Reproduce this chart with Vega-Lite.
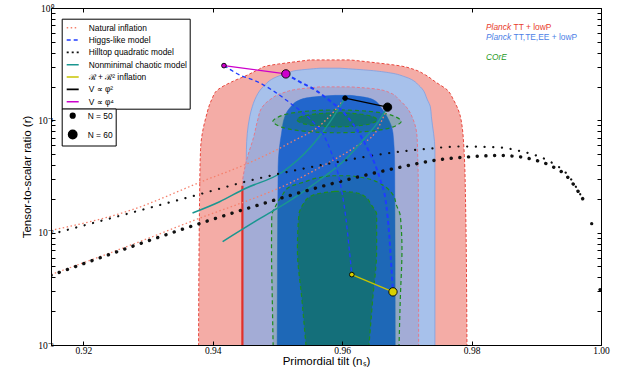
{
  "$schema": "https://vega.github.io/schema/vega-lite/v6.json",
  "width": 550,
  "height": 337,
  "autosize": {"type": "none"},
  "padding": {"left": 51, "top": 8, "right": 17, "bottom": 31},
  "config": {
    "view": {"stroke": "black", "strokeWidth": 1},
    "font": "Liberation Sans",
    "axis": {"grid": false, "domainColor": "black", "tickColor": "black", "labelColor": "black", "titleColor": "black", "titleFontWeight": "normal", "labelFont": "Liberation Serif", "labelFontSize": 9.5, "titleFont": "Liberation Sans", "titleFontSize": 11.5},
    "legend": {"labelFont": "Liberation Sans", "labelFontSize": 8.4, "labelColor": "black", "symbolBaseFillColor": "black", "symbolBaseStrokeColor": "black"}
  },
  "datasets": {
    "contours": [
      {"c": "TT95", "r": 0.0008, "ns": 0.93780, "ns2": 0.97929},
      {"c": "TT95", "r": 0.01965, "ns": 0.93796, "ns2": 0.97906},
      {"c": "TT95", "r": 0.05467, "ns": 0.93811, "ns2": 0.97883},
      {"c": "TT95", "r": 0.1074, "ns": 0.93896, "ns2": 0.97828},
      {"c": "TT95", "r": 0.1522, "ns": 0.93982, "ns2": 0.97720},
      {"c": "TT95", "r": 0.1867, "ns": 0.94075, "ns2": 0.97622},
      {"c": "TT95", "r": 0.2199, "ns": 0.94292, "ns2": 0.97441},
      {"c": "TT95", "r": 0.2537, "ns": 0.94540, "ns2": 0.97286},
      {"c": "TT95", "r": 0.2811, "ns": 0.94695, "ns2": 0.97130},
      {"c": "TT95", "r": 0.3051, "ns": 0.94835, "ns2": 0.96898},
      {"c": "TT95", "r": 0.3245, "ns": 0.95145, "ns2": 0.96541},
      {"c": "TT95", "r": 0.3449, "ns": 0.95502, "ns2": 0.96122},
      {"c": "TE95", "r": 0.0008, "ns": 0.94494, "ns2": 0.97433},
      {"c": "TE95", "r": 0.05467, "ns": 0.94520, "ns2": 0.97433},
      {"c": "TE95", "r": 0.1074, "ns": 0.94571, "ns2": 0.97379},
      {"c": "TE95", "r": 0.1318, "ns": 0.94610, "ns2": 0.97363},
      {"c": "TE95", "r": 0.1522, "ns": 0.94649, "ns2": 0.97317},
      {"c": "TE95", "r": 0.1985, "ns": 0.94777, "ns2": 0.97208},
      {"c": "TE95", "r": 0.2436, "ns": 0.94985, "ns2": 0.96975},
      {"c": "TE95", "r": 0.2644, "ns": 0.95161, "ns2": 0.96743},
      {"c": "TE95", "r": 0.2783, "ns": 0.95300, "ns2": 0.96433},
      {"c": "TE95", "r": 0.2911, "ns": 0.95657, "ns2": 0.95967},
      {"c": "TT68", "r": 0.0008, "ns": 0.94458, "ns2": 0.97182},
      {"c": "TT68", "r": 0.02617, "ns": 0.94458, "ns2": 0.97177},
      {"c": "TT68", "r": 0.04456, "ns": 0.94525, "ns2": 0.97169},
      {"c": "TT68", "r": 0.07134, "ns": 0.94633, "ns2": 0.97157},
      {"c": "TT68", "r": 0.1010, "ns": 0.94695, "ns2": 0.97099},
      {"c": "TT68", "r": 0.1291, "ns": 0.94757, "ns2": 0.97002},
      {"c": "TT68", "r": 0.1522, "ns": 0.94881, "ns2": 0.96882},
      {"c": "TT68", "r": 0.1755, "ns": 0.95083, "ns2": 0.96743},
      {"c": "TT68", "r": 0.1905, "ns": 0.95347, "ns2": 0.96510},
      {"c": "TT68", "r": 0.1985, "ns": 0.95657, "ns2": 0.96122},
      {"c": "TT68e", "r": 0.0008, "ns": 0.94458, "ns2": 0.94458},
      {"c": "TT68e", "r": 0.02617, "ns": 0.94458, "ns2": 0.94458},
      {"c": "TE68", "r": 0.0008, "ns": 0.94995, "ns2": 0.96820},
      {"c": "TE68", "r": 0.03884, "ns": 0.95010, "ns2": 0.96812},
      {"c": "TE68", "r": 0.07694, "ns": 0.95063, "ns2": 0.96785},
      {"c": "TE68", "r": 0.1081, "ns": 0.95114, "ns2": 0.96692},
      {"c": "TE68", "r": 0.1291, "ns": 0.95192, "ns2": 0.96603},
      {"c": "TE68", "r": 0.1522, "ns": 0.95347, "ns2": 0.96484},
      {"c": "TE68", "r": 0.1618, "ns": 0.95579, "ns2": 0.96308},
      {"c": "TE68", "r": 0.1668, "ns": 0.95890, "ns2": 0.96122},
      {"c": "C95a", "r": 0.0008, "ns": 0.94936, "ns2": 0.96875},
      {"c": "C95a", "r": 0.002537, "ns": 0.94920, "ns2": 0.96898},
      {"c": "C95a", "r": 0.007063, "ns": 0.94908, "ns2": 0.96924},
      {"c": "C95a", "r": 0.01416, "ns": 0.94912, "ns2": 0.96898},
      {"c": "C95a", "r": 0.01774, "ns": 0.94982, "ns2": 0.96836},
      {"c": "C95a", "r": 0.02132, "ns": 0.95068, "ns2": 0.96794},
      {"c": "C95a", "r": 0.02564, "ns": 0.95192, "ns2": 0.96665},
      {"c": "C95a", "r": 0.02840, "ns": 0.95424, "ns2": 0.96536},
      {"c": "C95a", "r": 0.03063, "ns": 0.95606, "ns2": 0.96355},
      {"c": "C95a", "r": 0.03212, "ns": 0.95812, "ns2": 0.96122},
      {"c": "C68a", "r": 0.0008, "ns": 0.95455, "ns2": 0.96401},
      {"c": "C68a", "r": 0.002537, "ns": 0.95378, "ns2": 0.96471},
      {"c": "C68a", "r": 0.007063, "ns": 0.95308, "ns2": 0.96533},
      {"c": "C68a", "r": 0.01445, "ns": 0.95331, "ns2": 0.96533},
      {"c": "C68a", "r": 0.01774, "ns": 0.95393, "ns2": 0.96448},
      {"c": "C68a", "r": 0.02089, "ns": 0.95502, "ns2": 0.96355},
      {"c": "C68a", "r": 0.02268, "ns": 0.95704, "ns2": 0.96215},
      {"c": "C68a", "r": 0.02329, "ns": 0.95890, "ns2": 0.96045},
      {"c": "C95b", "r": 0.07743, "ns": 0.95921, "ns2": 0.95921},
      {"c": "C95b", "r": 0.07855, "ns": 0.95581, "ns2": 0.96261},
      {"c": "C95b", "r": 0.08166, "ns": 0.95282, "ns2": 0.96560},
      {"c": "C95b", "r": 0.08710, "ns": 0.95062, "ns2": 0.96780},
      {"c": "C95b", "r": 0.09797, "ns": 0.94928, "ns2": 0.96914},
      {"c": "C95b", "r": 0.1102, "ns": 0.95062, "ns2": 0.96780},
      {"c": "C95b", "r": 0.1175, "ns": 0.95282, "ns2": 0.96560},
      {"c": "C95b", "r": 0.1222, "ns": 0.95581, "ns2": 0.96261},
      {"c": "C95b", "r": 0.1240, "ns": 0.95921, "ns2": 0.95921},
      {"c": "C68b", "r": 0.08753, "ns": 0.95921, "ns2": 0.95921},
      {"c": "C68b", "r": 0.08831, "ns": 0.95709, "ns2": 0.96133},
      {"c": "C68b", "r": 0.09047, "ns": 0.95522, "ns2": 0.96320},
      {"c": "C68b", "r": 0.09404, "ns": 0.95384, "ns2": 0.96458},
      {"c": "C68b", "r": 0.1010, "ns": 0.95301, "ns2": 0.96541},
      {"c": "C68b", "r": 0.1085, "ns": 0.95384, "ns2": 0.96458},
      {"c": "C68b", "r": 0.1128, "ns": 0.95522, "ns2": 0.96320},
      {"c": "C68b", "r": 0.1156, "ns": 0.95709, "ns2": 0.96133},
      {"c": "C68b", "r": 0.1166, "ns": 0.95921, "ns2": 0.95921}
    ],
    "lines": [
      {"model": "Natural inflation", "N": "N = 50", "ns": 0.91500, "r": 0.01048},
      {"model": "Natural inflation", "N": "N = 50", "ns": 0.92710, "r": 0.01569},
      {"model": "Natural inflation", "N": "N = 50", "ns": 0.93900, "r": 0.02959},
      {"model": "Natural inflation", "N": "N = 50", "ns": 0.94494, "r": 0.04022},
      {"model": "Natural inflation", "N": "N = 50", "ns": 0.95192, "r": 0.06310},
      {"model": "Natural inflation", "N": "N = 50", "ns": 0.95704, "r": 0.09501},
      {"model": "Natural inflation", "N": "N = 50", "ns": 0.96045, "r": 0.1576},
      {"model": "Natural inflation", "N": "N = 60", "ns": 0.91500, "r": 0.004233},
      {"model": "Natural inflation", "N": "N = 60", "ns": 0.92710, "r": 0.007662},
      {"model": "Natural inflation", "N": "N = 60", "ns": 0.93900, "r": 0.01416},
      {"model": "Natural inflation", "N": "N = 60", "ns": 0.94494, "r": 0.01886},
      {"model": "Natural inflation", "N": "N = 60", "ns": 0.95037, "r": 0.02512},
      {"model": "Natural inflation", "N": "N = 60", "ns": 0.95704, "r": 0.03941},
      {"model": "Natural inflation", "N": "N = 60", "ns": 0.96231, "r": 0.05933},
      {"model": "Natural inflation", "N": "N = 60", "ns": 0.96510, "r": 0.07743},
      {"model": "Natural inflation", "N": "N = 60", "ns": 0.96701, "r": 0.1310},
      {"model": "Nonminimal chaotic model", "N": "N = 50", "ns": 0.93687, "r": 0.01497},
      {"model": "Nonminimal chaotic model", "N": "N = 50", "ns": 0.94106, "r": 0.01886},
      {"model": "Nonminimal chaotic model", "N": "N = 50", "ns": 0.94494, "r": 0.02461},
      {"model": "Nonminimal chaotic model", "N": "N = 50", "ns": 0.95083, "r": 0.03485},
      {"model": "Nonminimal chaotic model", "N": "N = 50", "ns": 0.95502, "r": 0.05695},
      {"model": "Nonminimal chaotic model", "N": "N = 50", "ns": 0.95812, "r": 0.09697},
      {"model": "Nonminimal chaotic model", "N": "N = 50", "ns": 0.96045, "r": 0.1576},
      {"model": "Nonminimal chaotic model", "N": "N = 60", "ns": 0.94152, "r": 0.008318},
      {"model": "Nonminimal chaotic model", "N": "N = 60", "ns": 0.94726, "r": 0.01331},
      {"model": "Nonminimal chaotic model", "N": "N = 60", "ns": 0.95192, "r": 0.01925},
      {"model": "Nonminimal chaotic model", "N": "N = 60", "ns": 0.95657, "r": 0.02959},
      {"model": "Nonminimal chaotic model", "N": "N = 60", "ns": 0.96045, "r": 0.04456},
      {"model": "Nonminimal chaotic model", "N": "N = 60", "ns": 0.96355, "r": 0.06989},
      {"model": "Nonminimal chaotic model", "N": "N = 60", "ns": 0.96557, "r": 0.09697},
      {"model": "Nonminimal chaotic model", "N": "N = 60", "ns": 0.96701, "r": 0.1310},
      {"model": "Hilltop quadratic model", "N": "N = 50", "ns": 0.91500, "r": 0.00968},
      {"model": "Hilltop quadratic model", "N": "N = 50", "ns": 0.93900, "r": 0.02281},
      {"model": "Hilltop quadratic model", "N": "N = 50", "ns": 0.94520, "r": 0.02858},
      {"model": "Hilltop quadratic model", "N": "N = 50", "ns": 0.95781, "r": 0.04105},
      {"model": "Hilltop quadratic model", "N": "N = 50", "ns": 0.96789, "r": 0.05173},
      {"model": "Hilltop quadratic model", "N": "N = 50", "ns": 0.97312, "r": 0.05580},
      {"model": "Hilltop quadratic model", "N": "N = 50", "ns": 0.97829, "r": 0.05849},
      {"model": "Hilltop quadratic model", "N": "N = 50", "ns": 0.98449, "r": 0.05731},
      {"model": "Hilltop quadratic model", "N": "N = 50", "ns": 0.98708, "r": 0.05389},
      {"model": "Hilltop quadratic model", "N": "N = 50", "ns": 0.98966, "r": 0.04935},
      {"model": "Hilltop quadratic model", "N": "N = 50", "ns": 0.99225, "r": 0.04250},
      {"model": "Hilltop quadratic model", "N": "N = 50", "ns": 0.99484, "r": 0.03278},
      {"model": "Hilltop quadratic model", "N": "N = 50", "ns": 0.99726, "r": 0.01965},
      {"model": "Hilltop quadratic model", "N": "N = 50", "ns": 0.99856, "r": 0.01202},
      {"model": "Hilltop quadratic model", "N": "N = 50", "ns": 0.99985, "r": 0.003113},
      {"model": "Hilltop quadratic model", "N": "N = 60", "ns": 0.91500, "r": 0.004165},
      {"model": "Hilltop quadratic model", "N": "N = 60", "ns": 0.93900, "r": 0.01260},
      {"model": "Hilltop quadratic model", "N": "N = 60", "ns": 0.94520, "r": 0.01634},
      {"model": "Hilltop quadratic model", "N": "N = 60", "ns": 0.95781, "r": 0.02671},
      {"model": "Hilltop quadratic model", "N": "N = 60", "ns": 0.96789, "r": 0.03706},
      {"model": "Hilltop quadratic model", "N": "N = 60", "ns": 0.97570, "r": 0.04520},
      {"model": "Hilltop quadratic model", "N": "N = 60", "ns": 0.97829, "r": 0.04670},
      {"model": "Hilltop quadratic model", "N": "N = 60", "ns": 0.98449, "r": 0.04865},
      {"model": "Hilltop quadratic model", "N": "N = 60", "ns": 0.98708, "r": 0.04766},
      {"model": "Hilltop quadratic model", "N": "N = 60", "ns": 0.98966, "r": 0.04456},
      {"model": "Hilltop quadratic model", "N": "N = 60", "ns": 0.99225, "r": 0.03941},
      {"model": "Hilltop quadratic model", "N": "N = 60", "ns": 0.99484, "r": 0.03126},
      {"model": "Hilltop quadratic model", "N": "N = 60", "ns": 0.99726, "r": 0.01965},
      {"model": "Hilltop quadratic model", "N": "N = 60", "ns": 0.99856, "r": 0.01202},
      {"model": "Hilltop quadratic model", "N": "N = 60", "ns": 0.99985, "r": 0.003113},
      {"model": "Higgs-like model", "N": "N = 50", "ns": 0.94173, "r": 0.3070},
      {"model": "Higgs-like model", "N": "N = 50", "ns": 0.94416, "r": 0.2537},
      {"model": "Higgs-like model", "N": "N = 50", "ns": 0.94695, "r": 0.2199},
      {"model": "Higgs-like model", "N": "N = 50", "ns": 0.94959, "r": 0.1792},
      {"model": "Higgs-like model", "N": "N = 50", "ns": 0.95192, "r": 0.1431},
      {"model": "Higgs-like model", "N": "N = 50", "ns": 0.95393, "r": 0.1166},
      {"model": "Higgs-like model", "N": "N = 50", "ns": 0.95579, "r": 0.09309},
      {"model": "Higgs-like model", "N": "N = 50", "ns": 0.95719, "r": 0.07279},
      {"model": "Higgs-like model", "N": "N = 50", "ns": 0.95828, "r": 0.05248},
      {"model": "Higgs-like model", "N": "N = 50", "ns": 0.95921, "r": 0.03631},
      {"model": "Higgs-like model", "N": "N = 50", "ns": 0.95998, "r": 0.02268},
      {"model": "Higgs-like model", "N": "N = 50", "ns": 0.96060, "r": 0.01305},
      {"model": "Higgs-like model", "N": "N = 50", "ns": 0.96107, "r": 0.007356},
      {"model": "Higgs-like model", "N": "N = 50", "ns": 0.96149, "r": 0.004233},
      {"model": "Higgs-like model", "N": "N = 60", "ns": 0.95130, "r": 0.2590},
      {"model": "Higgs-like model", "N": "N = 60", "ns": 0.95347, "r": 0.2199},
      {"model": "Higgs-like model", "N": "N = 60", "ns": 0.95579, "r": 0.1867},
      {"model": "Higgs-like model", "N": "N = 60", "ns": 0.95812, "r": 0.1490},
      {"model": "Higgs-like model", "N": "N = 60", "ns": 0.96014, "r": 0.1190},
      {"model": "Higgs-like model", "N": "N = 60", "ns": 0.96153, "r": 0.09501},
      {"model": "Higgs-like model", "N": "N = 60", "ns": 0.96277, "r": 0.07430},
      {"model": "Higgs-like model", "N": "N = 60", "ns": 0.96401, "r": 0.05467},
      {"model": "Higgs-like model", "N": "N = 60", "ns": 0.96510, "r": 0.04022},
      {"model": "Higgs-like model", "N": "N = 60", "ns": 0.96588, "r": 0.02959},
      {"model": "Higgs-like model", "N": "N = 60", "ns": 0.96681, "r": 0.01774},
      {"model": "Higgs-like model", "N": "N = 60", "ns": 0.96727, "r": 0.009598},
      {"model": "Higgs-like model", "N": "N = 60", "ns": 0.96758, "r": 0.005195},
      {"model": "Higgs-like model", "N": "N = 60", "ns": 0.96785, "r": 0.002971}
    ],
    "pts": [
      {"model": "V ∝ φ⁴", "N": "N = 50", "ns": 0.94173, "r": 0.3070},
      {"model": "V ∝ φ⁴", "N": "N = 60", "ns": 0.95130, "r": 0.2590},
      {"model": "V ∝ φ²", "N": "N = 50", "ns": 0.96045, "r": 0.1576},
      {"model": "V ∝ φ²", "N": "N = 60", "ns": 0.96701, "r": 0.1310},
      {"model": "ℛ + ℛ² inflation", "N": "N = 50", "ns": 0.96149, "r": 0.004233},
      {"model": "ℛ + ℛ² inflation", "N": "N = 60", "ns": 0.96785, "r": 0.002971}
    ],
    "notes": [
      {"id": "tt_it", "t": "Planck", "ns": 0.98223, "r": 0.6822},
      {"id": "tt_rm", "t": "TT + lowP", "ns": 0.98223, "r": 0.6822},
      {"id": "te_it", "t": "Planck", "ns": 0.98223, "r": 0.5491},
      {"id": "te_rm", "t": "TT,TE,EE + lowP", "ns": 0.98223, "r": 0.5491},
      {"id": "core", "t": "COrE", "ns": 0.98223, "r": 0.3690}
    ]
  },
  "resolve": {"axis": {"x": "independent", "y": "independent"}},
  "layer": [
    {
      "encoding": {
        "x": {"field": "ns", "type": "quantitative", "scale": {"domain": [0.915, 1.0], "nice": false, "zero": false},
          "axis": {"orient": "bottom", "values": [0.92, 0.94, 0.96, 0.98, 1.0], "format": ".2f", "title": "Primordial tilt (nₛ)", "tickSize": -4, "labelPadding": 4, "titlePadding": 1, "labelFlush": false, "zindex": 1}},
        "y": {"field": "r", "type": "quantitative", "scale": {"type": "log", "domain": [0.001, 1], "nice": false},
          "axis": {"orient": "left", "values": [0.001, 0.002, 0.003, 0.004, 0.005, 0.006, 0.007, 0.008, 0.009, 0.01, 0.02, 0.03, 0.04, 0.05, 0.06, 0.07, 0.08, 0.09, 0.1, 0.2, 0.3, 0.4, 0.5, 0.6, 0.7, 0.8, 0.9, 1],
            "labelExpr": "datum.value == 1 ? '10⁰' : datum.value == 0.1 ? '10⁻¹' : datum.value == 0.01 ? '10⁻²' : datum.value == 0.001 ? '10⁻³' : ''",
            "title": "Tensor-to-scalar ratio (r)", "tickSize": -4, "labelPadding": 2, "titlePadding": 5, "labelFlush": false, "zindex": 1}}
      },
      "layer": [
        {"data": {"name": "contours"}, "transform": [{"filter": "datum.c == 'TT95'"}],
         "mark": {"type": "area", "orient": "horizontal", "clip": true, "interpolate": "monotone", "fill": "#f4aca6", "stroke": "#e8463c", "strokeDash": [3, 2], "strokeWidth": 1},
         "encoding": {"x2": {"field": "ns2"}}},
        {"data": {"name": "contours"}, "transform": [{"filter": "datum.c == 'TE95'"}],
         "mark": {"type": "area", "orient": "horizontal", "clip": true, "interpolate": "monotone", "fill": "#a7c1eb", "stroke": "#7b9fe3", "strokeWidth": 0.8},
         "encoding": {"x2": {"field": "ns2"}}},
        {"data": {"name": "contours"}, "transform": [{"filter": "datum.c == 'TT68'"}],
         "mark": {"type": "area", "orient": "horizontal", "clip": true, "interpolate": "monotone", "fill": "#a3acd6", "stroke": "#e27a8c", "strokeDash": [3, 2], "strokeWidth": 1},
         "encoding": {"x2": {"field": "ns2"}}},
        {"data": {"name": "contours"}, "transform": [{"filter": "datum.c == 'TT68e'"}],
         "mark": {"type": "line", "clip": true, "stroke": "#e0302a", "strokeWidth": 2.2},
         "encoding": {}},
        {"data": {"name": "contours"}, "transform": [{"filter": "datum.c == 'TE68'"}],
         "mark": {"type": "area", "orient": "horizontal", "clip": true, "interpolate": "monotone", "fill": "#2266cc", "stroke": "#2266cc", "strokeWidth": 0.5},
         "encoding": {"x2": {"field": "ns2"}}},
        {"data": {"name": "contours"}, "transform": [{"filter": "datum.c == 'C95a'"}],
         "mark": {"type": "area", "orient": "horizontal", "clip": true, "interpolate": "monotone", "fill": "#008000", "fillOpacity": 0.1, "stroke": "#1e8c1e", "strokeDash": [4, 3], "strokeWidth": 1.2},
         "encoding": {"x2": {"field": "ns2"}}},
        {"data": {"name": "contours"}, "transform": [{"filter": "datum.c == 'C68a'"}],
         "mark": {"type": "area", "orient": "horizontal", "clip": true, "interpolate": "monotone", "fill": "#008000", "fillOpacity": 0.33, "stroke": "#1e8c1e", "strokeDash": [4, 3], "strokeWidth": 1.2},
         "encoding": {"x2": {"field": "ns2"}}},
        {"data": {"name": "contours"}, "transform": [{"filter": "datum.c == 'C95b'"}],
         "mark": {"type": "area", "orient": "horizontal", "clip": true, "interpolate": "cardinal", "fill": "#008000", "fillOpacity": 0.15, "stroke": "#1e8c1e", "strokeDash": [4, 3], "strokeWidth": 1.2},
         "encoding": {"x2": {"field": "ns2"}}},
        {"data": {"name": "contours"}, "transform": [{"filter": "datum.c == 'C68b'"}],
         "mark": {"type": "area", "orient": "horizontal", "clip": true, "interpolate": "cardinal", "fill": "#008000", "fillOpacity": 0.3, "stroke": "#1e8c1e", "strokeDash": [4, 3], "strokeWidth": 1.2},
         "encoding": {"x2": {"field": "ns2"}}},
        {"data": {"name": "lines"}, "transform": [{"filter": "datum.model == 'Natural inflation'"}],
         "mark": {"type": "line", "clip": true, "interpolate": "monotone", "strokeWidth": 1.3},
         "encoding": {"detail": {"field": "N", "type": "nominal"},
           "color": {"field": "model", "type": "nominal",
             "scale": {"domain": ["Natural inflation", "Higgs-like model", "Hilltop quadratic model", "Nonminimal chaotic model", "ℛ + ℛ² inflation", "V ∝ φ²", "V ∝ φ⁴"], "range": ["#f4806c", "#1f3cff", "#111111", "#1a9690", "#c8c400", "#000000", "#cc00cc"]},
             "legend": {"title": null, "orient": "none", "legendX": 10.7, "legendY": 10.7, "symbolType": "stroke", "symbolSize": 144, "symbolStrokeWidth": 1.6, "labelOffset": 9, "rowPadding": 0.33, "padding": 2, "symbolOffset": 2, "strokeColor": "black", "fillColor": "white", "cornerRadius": 0}},
           "strokeDash": {"field": "model", "type": "nominal",
             "scale": {"domain": ["Natural inflation", "Higgs-like model", "Hilltop quadratic model", "Nonminimal chaotic model", "ℛ + ℛ² inflation", "V ∝ φ²", "V ∝ φ⁴"], "range": [[1.5, 2.5], [4, 3], [2, 3], [1, 0], [1, 0], [1, 0], [1, 0]]},
             "legend": {"title": null, "orient": "none", "legendX": 10.7, "legendY": 10.7, "symbolType": "stroke", "symbolSize": 144, "symbolStrokeWidth": 1.6, "labelOffset": 9, "rowPadding": 0.33, "padding": 2, "symbolOffset": 2, "strokeColor": "black", "fillColor": "white", "cornerRadius": 0}}}},
        {"data": {"name": "lines"}, "transform": [{"filter": "datum.model == 'Nonminimal chaotic model'"}],
         "mark": {"type": "line", "clip": true, "interpolate": "monotone", "strokeWidth": 1.5},
         "encoding": {"detail": {"field": "N", "type": "nominal"}, "color": {"field": "model", "type": "nominal"}}},
        {"data": {"name": "lines"}, "transform": [{"filter": "datum.model == 'Hilltop quadratic model' && datum.N == 'N = 50' && datum.ns < 0.998"}],
         "mark": {"type": "line", "clip": true, "interpolate": "monotone", "strokeWidth": 2.2, "strokeCap": "round", "strokeDash": [0.1, 8.6]},
         "encoding": {"color": {"field": "model", "type": "nominal"}}},
        {"data": {"name": "lines"}, "transform": [{"filter": "datum.model == 'Hilltop quadratic model' && datum.N == 'N = 60' && datum.ns < 0.998"}],
         "mark": {"type": "line", "clip": true, "interpolate": "monotone", "strokeWidth": 3.4, "strokeCap": "round", "strokeDash": [0.1, 8.6]},
         "encoding": {"color": {"field": "model", "type": "nominal"}}},
        {"data": {"name": "lines"}, "transform": [{"filter": "datum.model == 'Hilltop quadratic model' && datum.N == 'N = 60' && datum.ns > 0.998"}],
         "mark": {"type": "circle", "clip": true, "size": 11, "color": "#111111", "opacity": 1},
         "encoding": {}},
        {"data": {"name": "lines"}, "transform": [{"filter": "datum.model == 'Higgs-like model' && datum.N == 'N = 50'"}],
         "mark": {"type": "line", "clip": true, "interpolate": "monotone", "strokeWidth": 1.3, "strokeDash": [4, 3]},
         "encoding": {"color": {"field": "model", "type": "nominal"}}},
        {"data": {"name": "lines"}, "transform": [{"filter": "datum.model == 'Higgs-like model' && datum.N == 'N = 60'"}],
         "mark": {"type": "line", "clip": true, "interpolate": "monotone", "strokeWidth": 2, "strokeDash": [4, 3]},
         "encoding": {"color": {"field": "model", "type": "nominal"}}},
        {"data": {"name": "pts"},
         "mark": {"type": "line", "clip": true, "strokeWidth": 1.2},
         "encoding": {"color": {"field": "model", "type": "nominal"}}},
        {"data": {"name": "pts"},
         "mark": {"type": "point", "filled": true, "stroke": "black", "strokeWidth": 0.9, "opacity": 1},
         "encoding": {
           "fill": {"field": "model", "type": "nominal", "scale": {"domain": ["V ∝ φ⁴", "V ∝ φ²", "ℛ + ℛ² inflation"], "range": ["#cc00cc", "#000000", "#d8d000"]}, "legend": null},
           "size": {"field": "N", "type": "ordinal", "scale": {"domain": ["N = 50", "N = 60"], "range": [22, 70]},
             "legend": {"title": null, "orient": "none", "legendX": 10.7, "legendY": 100.5, "symbolOffset": 3, "labelOffset": 10, "rowPadding": 5, "padding": 3, "strokeColor": "black", "fillColor": "white", "cornerRadius": 0, "symbolFillColor": "black", "symbolStrokeColor": "black"}}}},
        {"data": {"name": "notes"}, "transform": [{"filter": "datum.id == 'tt_it'"}],
         "mark": {"type": "text", "align": "left", "baseline": "middle", "font": "Liberation Sans", "fontSize": 8.4, "fontStyle": "italic", "fill": "#e83c2c"},
         "encoding": {"text": {"field": "t", "type": "nominal"}}},
        {"data": {"name": "notes"}, "transform": [{"filter": "datum.id == 'tt_rm'"}],
         "mark": {"type": "text", "align": "left", "baseline": "middle", "font": "Liberation Sans", "fontSize": 8.4, "dx": 27.5, "fill": "#e83c2c"},
         "encoding": {"text": {"field": "t", "type": "nominal"}}},
        {"data": {"name": "notes"}, "transform": [{"filter": "datum.id == 'te_it'"}],
         "mark": {"type": "text", "align": "left", "baseline": "middle", "font": "Liberation Sans", "fontSize": 8.4, "fontStyle": "italic", "fill": "#4d7fe6"},
         "encoding": {"text": {"field": "t", "type": "nominal"}}},
        {"data": {"name": "notes"}, "transform": [{"filter": "datum.id == 'te_rm'"}],
         "mark": {"type": "text", "align": "left", "baseline": "middle", "font": "Liberation Sans", "fontSize": 8.4, "dx": 27.5, "fill": "#4d7fe6"},
         "encoding": {"text": {"field": "t", "type": "nominal"}}},
        {"data": {"name": "notes"}, "transform": [{"filter": "datum.id == 'core'"}],
         "mark": {"type": "text", "align": "left", "baseline": "middle", "font": "Liberation Sans", "fontSize": 8.4, "fontStyle": "italic", "fill": "#1e9a1e"},
         "encoding": {"text": {"field": "t", "type": "nominal"}}}
      ]
    },
    {
      "data": {"name": "notes"},
      "mark": {"type": "point", "opacity": 0},
      "encoding": {
        "x": {"field": "ns", "type": "quantitative", "scale": {"domain": [0.915, 1.0], "nice": false, "zero": false},
          "axis": {"orient": "top", "values": [0.92, 0.94, 0.96, 0.98, 1.0], "labels": false, "title": null, "tickSize": -4, "domain": false, "zindex": 1}},
        "y": {"field": "r", "type": "quantitative", "scale": {"type": "log", "domain": [0.001, 1], "nice": false},
          "axis": {"orient": "right", "values": [0.001, 0.002, 0.003, 0.004, 0.005, 0.006, 0.007, 0.008, 0.009, 0.01, 0.02, 0.03, 0.04, 0.05, 0.06, 0.07, 0.08, 0.09, 0.1, 0.2, 0.3, 0.4, 0.5, 0.6, 0.7, 0.8, 0.9, 1], "labels": false, "title": null, "tickSize": -4, "domain": false, "zindex": 1}}
      }
    }
  ]
}
